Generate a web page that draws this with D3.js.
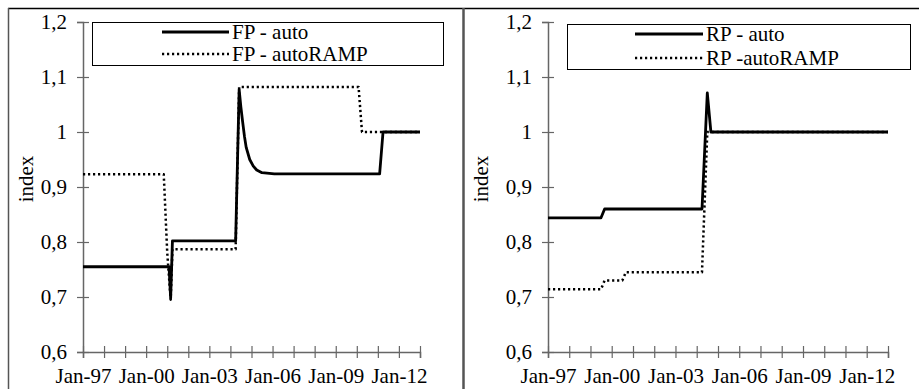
<!DOCTYPE html>
<html>
<head>
<meta charset="utf-8">
<script src="https://cdn.jsdelivr.net/npm/d3@7"></script>
<style>
  body { margin: 0; background: #fff; }
</style>
</head>
<body>
<div id="chart"></div>
<script>

// values (month, index)
var fpAuto = [
    ["1997-01", 0.755], ["2001-02", 0.755], ["2001-03", 0.698], ["2001-04", 0.802],
    ["2004-04", 0.802], ["2004-06", 1.077], ["2004-07", 1.045], ["2004-08", 1.018],
    ["2004-09", 0.992], ["2004-10", 0.972], ["2004-12", 0.950], ["2005-02", 0.938],
    ["2005-04", 0.931], ["2005-07", 0.926], ["2006-02", 0.924],
    ["2011-02", 0.924], ["2011-04", 1.0], ["2013-01", 1.0]
];
var fpRamp = [
    ["1997-01", 0.923], ["2000-11", 0.923], ["2001-01", 0.78], ["2001-03", 0.695],
    ["2001-04", 0.787], ["2004-04", 0.787], ["2004-06", 1.082], ["2010-02", 1.082],
    ["2010-04", 1.0], ["2013-01", 1.0]
];
var rpAuto = [
    ["1997-01", 0.844], ["1999-07", 0.844], ["1999-09", 0.86], ["2004-04", 0.86],
    ["2004-07", 1.071], ["2004-09", 1.0], ["2013-01", 1.0]
];
var rpRamp = [
    ["1997-01", 0.714], ["1999-07", 0.714], ["1999-09", 0.730], ["2000-07", 0.730],
    ["2000-09", 0.745], ["2004-04", 0.745], ["2004-07", 1.0], ["2013-01", 1.0]
];

var yTicks = [0.6, 0.7, 0.8, 0.9, 1.0, 1.1, 1.2];
var xDomain = ["1997-01", "2013-01"];
var labelYears = [1997, 2000, 2003, 2006, 2009, 2012];

var panels = [
    { left: 83, right: 420, titleX: 27, legend: { x: 92, y: 22, w: 351, h: 43, lineX: 162, textX: 232, gap: 22 },
      series: [{ name: "FP - auto", data: fpAuto, dotted: false }, { name: "FP - autoRAMP", data: fpRamp, dotted: true }] },
    { left: 548, right: 888, titleX: 482, legend: { x: 567, y: 24, w: 343, h: 45, lineX: 635, textX: 706, gap: 24 },
      series: [{ name: "RP - auto", data: rpAuto, dotted: false }, { name: "RP -autoRAMP", data: rpRamp, dotted: true }] }
];

var width = 919, height = 389;
var plotTop = 22, plotBottom = 352;
var fontSize = 21;
var serif = "'Liberation Serif', 'Times New Roman', 'DejaVu Serif', serif";
var parseMonth = d3.timeParse("%Y-%m");
var fmtComma = function (d) { return String(+d.toFixed(1)).replace(".", ","); };

var svg = d3.select("#chart")
    .append("svg")
    .attr("width", width)
    .attr("height", height);

// outer frame lines
svg.append("line").attr("x1", 8).attr("x2", width).attr("y1", 8.5).attr("y2", 8.5)
    .attr("stroke", "#000").attr("stroke-width", 1.5);
svg.append("line").attr("x1", 8.5).attr("x2", 8.5).attr("y1", 8).attr("y2", height)
    .attr("stroke", "#555").attr("stroke-width", 1.5);
svg.append("line").attr("x1", 463.5).attr("x2", 463.5).attr("y1", 8).attr("y2", height)
    .attr("stroke", "#555").attr("stroke-width", 2.5);

var y = d3.scaleLinear().domain([0.6, 1.2]).range([plotBottom, plotTop]);

panels.forEach(function (p) {
    var x = d3.scaleTime()
        .domain(xDomain.map(parseMonth))
        .range([p.left, p.right]);

    var g = svg.append("g");

    // y axis
    var yAxis = g.append("g")
        .attr("transform", "translate(" + p.left + ",0)")
        .call(d3.axisLeft(y).tickValues(yTicks).tickSize(6).tickPadding(10).tickFormat(fmtComma));
    yAxis.attr("font-family", serif).attr("font-size", fontSize);
    yAxis.select(".domain").attr("stroke", "#666").attr("stroke-width", 1.5);
    yAxis.selectAll(".tick line").attr("x1", 6).attr("x2", -6).attr("stroke", "#666").attr("stroke-width", 1.2);
    yAxis.selectAll(".tick text").attr("x", -16).attr("fill", "#000");

    // x axis
    var xAxis = g.append("g")
        .attr("transform", "translate(0," + plotBottom + ")")
        .call(d3.axisBottom(x).ticks(d3.timeYear.every(1)).tickSize(6).tickPadding(10)
            .tickFormat(function (d) {
                return labelYears.indexOf(d.getFullYear()) >= 0 ? d3.timeFormat("Jan-%y")(d) : "";
            }));
    xAxis.attr("font-family", serif).attr("font-size", fontSize);
    xAxis.select(".domain").attr("stroke", "#666").attr("stroke-width", 1.5);
    xAxis.selectAll(".tick line").attr("y1", -6).attr("y2", 6).attr("stroke", "#666").attr("stroke-width", 1.2);
    xAxis.selectAll(".tick text").attr("fill", "#000");

    // y title
    g.append("text")
        .attr("transform", "translate(" + (p.titleX + 6) + "," + 179 + ") rotate(-90)")
        .attr("text-anchor", "middle")
        .attr("font-family", serif)
        .attr("font-size", fontSize)
        .text("index");

    var line = d3.line()
        .x(function (d) { return x(parseMonth(d[0])); })
        .y(function (d) { return y(d[1]); });

    // draw dotted first, solid on top
    p.series.slice().reverse().forEach(function (s) {
        g.append("path")
            .attr("d", line(s.data))
            .attr("fill", "none")
            .attr("stroke", "#000")
            .attr("stroke-width", s.dotted ? 2.5 : 2.8)
            .attr("stroke-dasharray", s.dotted ? "2.2,2.8" : null)
            .attr("stroke-linejoin", "round");
    });

    // legend
    var L = p.legend;
    var lg = g.append("g");
    lg.append("rect")
        .attr("x", L.x + 0.5).attr("y", L.y + 0.5)
        .attr("width", L.w).attr("height", L.h)
        .attr("fill", "#fff").attr("stroke", "#000").attr("stroke-width", 1);
    p.series.forEach(function (s, i) {
        var ly = L.y + 10 + i * L.gap;
        lg.append("line")
            .attr("x1", L.lineX).attr("x2", L.textX - 3)
            .attr("y1", ly).attr("y2", ly)
            .attr("stroke", "#000")
            .attr("stroke-width", s.dotted ? 2.5 : 2.8)
            .attr("stroke-dasharray", s.dotted ? "2.2,2.8" : null);
        lg.append("text")
            .attr("x", L.textX)
            .attr("y", ly + 7)
            .attr("font-family", serif)
            .attr("font-size", fontSize)
            .text(s.name);
    });
});

</script>
</body>
</html>
